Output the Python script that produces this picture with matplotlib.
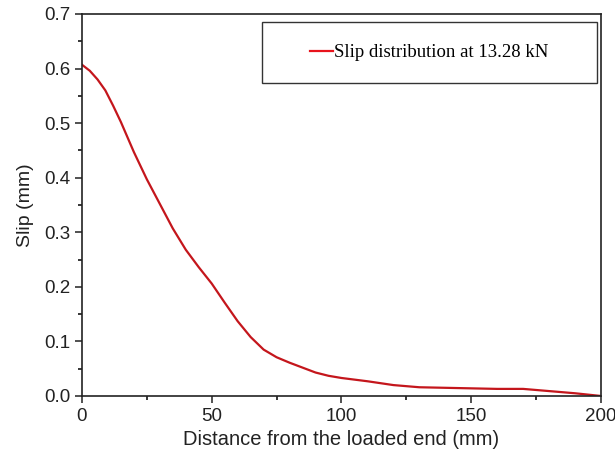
import matplotlib.pyplot as plt
from matplotlib.lines import Line2D
from matplotlib.patches import Rectangle
from matplotlib.ticker import MultipleLocator

# slip values
distance_mm = [0, 3, 6, 9, 12, 15, 20, 25, 30, 35, 40, 45, 50, 55, 60, 65,
               70, 75, 80, 85, 90, 95, 100, 110, 120, 130, 140, 150, 160,
               170, 180, 190, 200]
slip_mm = [0.607, 0.596, 0.580, 0.560, 0.532, 0.502, 0.447, 0.397, 0.352,
           0.307, 0.268, 0.236, 0.206, 0.171, 0.137, 0.108, 0.085, 0.071,
           0.061, 0.052, 0.043, 0.037, 0.033, 0.027, 0.020, 0.016, 0.015,
           0.014, 0.013, 0.013, 0.009, 0.005, 0.000]
legend_label = "Slip distribution at 13.28 kN"

plt.rcParams["font.family"] = ["Liberation Sans", "DejaVu Sans"]

fig = plt.figure(figsize=(6.15, 4.57), dpi=100)
ax = fig.add_axes([0.1333, 0.1335, 0.8439, 0.8359])

ax.plot(distance_mm, slip_mm, color="#c4161c", lw=1.6)

ax.set_xlim(0, 200)
ax.set_ylim(0, 0.7)
ax.xaxis.set_major_locator(MultipleLocator(50))
ax.xaxis.set_minor_locator(MultipleLocator(25))
ax.yaxis.set_major_locator(MultipleLocator(0.1))
ax.yaxis.set_minor_locator(MultipleLocator(0.05))
ax.yaxis.set_major_formatter(plt.FormatStrFormatter("%.1f"))
ax.tick_params(which="major", direction="out", length=5, width=1.1,
               labelsize=13.5, colors="#222222")
ax.tick_params(which="minor", direction="out", length=3, width=1.1)
ax.tick_params(top=False, right=False)
for sp in ax.spines.values():
    sp.set_linewidth(1.2)
    sp.set_color("#222222")

ax.set_xlabel("Distance from the loaded end (mm)", fontsize=14.5,
              color="#222222", labelpad=4)
ax.set_ylabel("Slip (mm)", fontsize=14, color="#222222", labelpad=7)

# legend box
ax.add_patch(Rectangle((0.347, 0.819), 0.645, 0.160, transform=ax.transAxes,
                       fill=False, edgecolor="#333333", lw=1.0))
handle = Line2D([], [], color="#e8141c", lw=1.6)
ax.legend([handle], [legend_label], loc="center",
          bbox_to_anchor=(0.6695, 0.899), frameon=False,
          handlelength=1.2, handletextpad=0.1,
          prop={"family": "Liberation Serif", "size": 13.5})

fig.savefig("out.png", dpi=100)
